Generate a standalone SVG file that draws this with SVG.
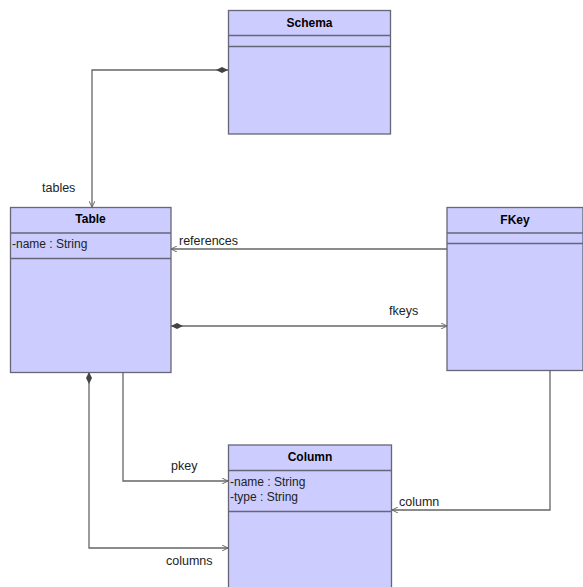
<svg xmlns="http://www.w3.org/2000/svg" width="583" height="587" viewBox="0 0 583 587">
  <style>
    .box { fill: #ccccff; stroke: #666677; stroke-width: 1.3; }
    .sep { stroke: #666677; stroke-width: 1.3; }
    .title { font-family: "Liberation Sans", Arial, sans-serif; font-size: 12px; font-weight: bold; fill: #000; text-anchor: middle; }
    .attr { font-family: "Liberation Sans", Arial, sans-serif; font-size: 12px; fill: #222; }
    .lbl { font-family: "Liberation Sans", Arial, sans-serif; font-size: 12.5px; fill: #222; }
    .edge { fill: none; stroke: #666666; stroke-width: 1.3; }
  </style>
  <defs>
    <marker id="arrow" viewBox="0 0 10 10" refX="10" refY="5" markerWidth="6" markerHeight="6" markerUnits="userSpaceOnUse" orient="auto">
      <path d="M0,0 L10,5 L0,10" fill="none" stroke="#666666" stroke-width="1.6"/>
    </marker>
    <marker id="diamond" viewBox="0 0 12 6" refX="0" refY="3" markerWidth="12" markerHeight="6" markerUnits="userSpaceOnUse" orient="auto">
      <path d="M0,3 L6,0 L12,3 L6,6 Z" fill="#444444"/>
    </marker>
  </defs>

  <rect width="583" height="587" fill="#ffffff"/>

  <g id="connectors">
    <!-- Schema composition of tables -->
    <path class="edge" d="M228,70 H92 V207" marker-start="url(#diamond)" marker-end="url(#arrow)"/>
    <text class="lbl" x="42" y="192">tables</text>
    <!-- FKey references Table -->
    <path class="edge" d="M447,249 H171" marker-end="url(#arrow)"/>
    <text class="lbl" x="179" y="245">references</text>
    <!-- Table composition of fkeys -->
    <path class="edge" d="M171,326 H447" marker-start="url(#diamond)" marker-end="url(#arrow)"/>
    <text class="lbl" x="389" y="315">fkeys</text>
    <!-- Table primary key column -->
    <path class="edge" d="M123,372 V481 H228" marker-end="url(#arrow)"/>
    <text class="lbl" x="171" y="470">pkey</text>
    <!-- Table composition of columns -->
    <path class="edge" d="M89,372 V548 H228" marker-start="url(#diamond)" marker-end="url(#arrow)"/>
    <text class="lbl" x="166" y="565">columns</text>
    <!-- FKey column -->
    <path class="edge" d="M550,370 V510 H392" marker-end="url(#arrow)"/>
    <text class="lbl" x="399" y="506">column</text>
  </g>

  <g id="Schema">
    <rect class="box" x="228.5" y="10.5" width="162" height="123.5"/>
    <line class="sep" x1="228.5" y1="35.5" x2="390.5" y2="35.5"/>
    <line class="sep" x1="228.5" y1="46.5" x2="390.5" y2="46.5"/>
    <text class="title" x="309.5" y="26.5">Schema</text>
  </g>

  <g id="Table">
    <rect class="box" x="10.5" y="207.5" width="160.5" height="165"/>
    <line class="sep" x1="10.5" y1="233" x2="171" y2="233"/>
    <line class="sep" x1="10.5" y1="258.5" x2="171" y2="258.5"/>
    <text class="title" x="90.5" y="222.5">Table</text>
    <text class="attr" x="12" y="248">-name : String</text>
  </g>

  <g id="FKey">
    <rect class="box" x="447" y="207.5" width="136" height="163"/>
    <line class="sep" x1="447" y1="233" x2="583" y2="233"/>
    <line class="sep" x1="447" y1="243.5" x2="583" y2="243.5"/>
    <text class="title" x="515" y="224">FKey</text>
  </g>

  <g id="Column">
    <rect class="box" x="228.5" y="445" width="163" height="150"/>
    <line class="sep" x1="228.5" y1="470.5" x2="391.5" y2="470.5"/>
    <line class="sep" x1="228.5" y1="511.5" x2="391.5" y2="511.5"/>
    <text class="title" x="310" y="461">Column</text>
    <text class="attr" x="230" y="486">-name : String</text>
    <text class="attr" x="230" y="500.5">-type : String</text>
  </g>
</svg>
